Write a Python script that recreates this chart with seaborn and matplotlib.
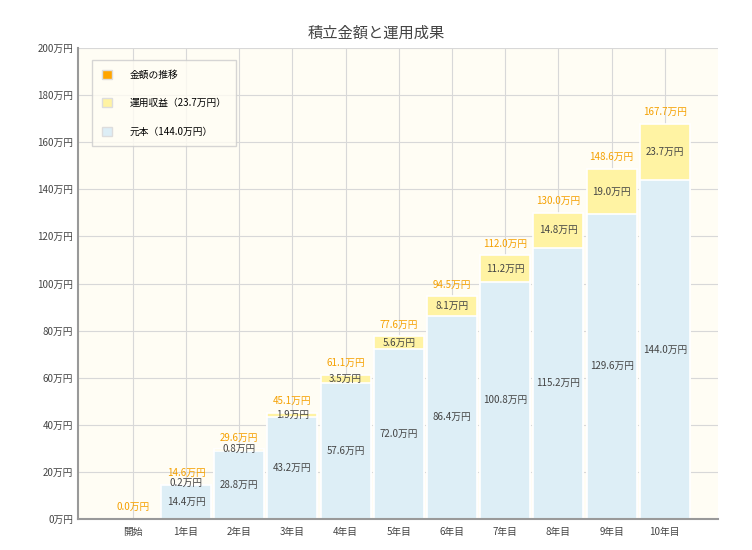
import matplotlib
matplotlib.use("Agg")
import matplotlib.pyplot as plt
import seaborn as sns
import pandas as pd

plt.rcParams["font.family"] = "Noto Sans CJK JP"

categories = ["開始", "1年目", "2年目", "3年目", "4年目", "5年目", "6年目", "7年目", "8年目", "9年目", "10年目"]
principal = [0, 14.4, 28.8, 43.2, 57.6, 72.0, 86.4, 100.8, 115.2, 129.6, 144.0]
gains = [0, 0.2, 0.8, 1.9, 3.5, 5.6, 8.1, 11.2, 14.8, 19.0, 23.7]
totals = [0, 14.6, 29.6, 45.1, 61.1, 77.6, 94.5, 112.0, 130.0, 148.6, 167.7]
yticks = list(range(0, 201, 20))

df = pd.DataFrame({"cat": categories, "principal": principal, "gain": gains, "total": totals})

fig = plt.figure(figsize=(7.52, 5.5), dpi=100)
ax = fig.add_axes([78/752, 31/550, 640/752, 471/550])
ax.set_facecolor("#fffdf4")

blue = "#ddeef6"
yellow = "#fff3a3"
sns.barplot(data=df, x="cat", y="total", color=yellow, width=0.94, ax=ax,
            edgecolor="white", linewidth=1.2, saturation=1)
sns.barplot(data=df, x="cat", y="principal", color=blue, width=0.94, ax=ax,
            edgecolor="white", linewidth=1.2, saturation=1)

for i, (p, g, t) in enumerate(zip(principal, gains, totals)):
    ax.text(i, t + 5, f"{t:.1f}万円", ha="center", va="center", color="#f5a000", fontsize=7)
    if t > 0:
        ax.text(i, p / 2, f"{p:.1f}万円", ha="center", va="center", color="#444444", fontsize=7)
        ax.text(i, p + max(g / 2, 0.8), f"{g:.1f}万円", ha="center", va="center", color="#444444", fontsize=7)

ax.set_ylim(0, 200)
ax.set_xlim(-1.03, 11.0)
ax.set_yticks(yticks)
ax.set_yticklabels([f"{v}万円" for v in yticks], fontsize=7, color="#444444")
ax.tick_params(axis="x", labelsize=7, colors="#444444", length=0, pad=6)
ax.tick_params(axis="y", length=0)
ax.set_xlabel("")
ax.set_ylabel("")
ax.grid(True, color="#d8d8d8", linewidth=0.8)
ax.set_axisbelow(True)
for s in ["top", "right"]:
    ax.spines[s].set_visible(False)
for s in ["left", "bottom"]:
    ax.spines[s].set_color("#999999")
    ax.spines[s].set_linewidth(1.5)

from matplotlib.patches import Patch
handles = [Patch(facecolor="#ffa500", edgecolor="#dddddd"),
           Patch(facecolor=yellow, edgecolor="#dddddd"),
           Patch(facecolor=blue, edgecolor="#dddddd")]
labels = ["金額の推移", "運用収益（23.7万円）", "元本（144.0万円）"]
leg = ax.legend(handles, labels, loc="upper left", bbox_to_anchor=(0.015, 0.985),
                fontsize=7, frameon=True, labelspacing=1.9, borderpad=1.0,
                handlelength=1.0, handleheight=1.0, handletextpad=1.8, fancybox=False)
leg.get_frame().set_edgecolor("#cccccc")
leg.get_frame().set_facecolor("#fffdf4")

fig.suptitle("積立金額と運用成果", y=0.955, fontsize=11, color="#444444")
fig.savefig("out.png", dpi=100)
